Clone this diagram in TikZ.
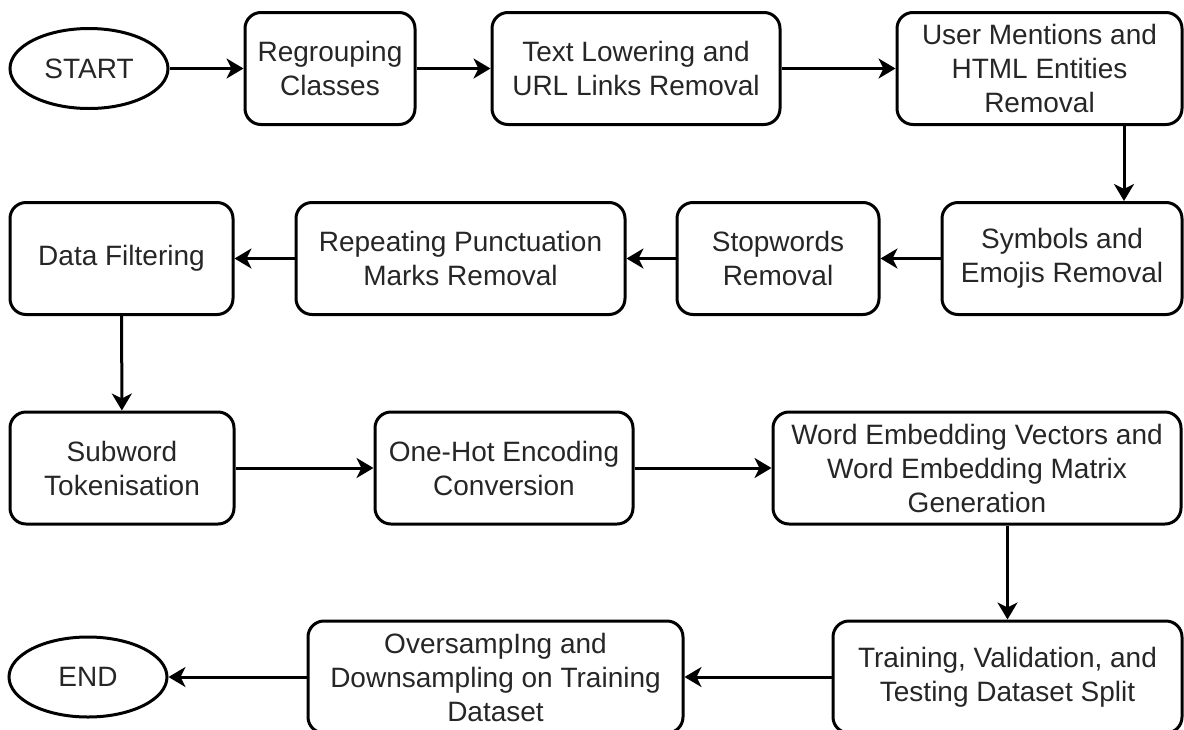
\documentclass[tikz,border=0pt]{standalone}
\usepackage{fontspec}
\setmainfont{Liberation Sans}
\usetikzlibrary{shapes.geometric,arrows.meta,calc}
\begin{document}
\begin{tikzpicture}[x=0.5pt,y=-0.5pt,
  every node/.style={font=\fontsize{14pt}{17pt}\selectfont, text=black!85, align=center},
  stepbox/.style={draw=black, line width=1.5pt, rounded corners=8pt, inner sep=0pt, minimum height=56pt},
  terminal/.style={draw=black, line width=1.5pt, ellipse, inner sep=0pt, minimum width=79pt, minimum height=40pt},
  flow/.style={draw=black, line width=1.5pt, -{Stealth[length=8.5pt,width=10pt,inset=2.5pt]}}
]
\useasboundingbox (0,0) rectangle (1184,729);

% row 1
\node[terminal] (start) at (89,68.5) {START};
\node[stepbox, minimum width=85pt] (reg) at (330,68.5) {Regrouping\\Classes};
\node[stepbox, minimum width=144pt] (txt) at (636,68.5) {Text Lowering and\\URL Links Removal};
\node[stepbox, minimum width=142.5pt] (usr) at (1039.5,68.5) {User Mentions and\\HTML Entities\\Removal};

% row 2
\node[stepbox, minimum width=111.5pt] (filt) at (121.5,258.5) {Data Filtering};
\node[stepbox, minimum width=164.5pt] (rep) at (460.5,258.5) {Repeating Punctuation\\Marks Removal};
\node[stepbox, minimum width=101pt] (stop) at (778,258.5) {Stopwords\\Removal};
\node[stepbox, minimum width=120pt] (sym) at (1062,258.5) {Symbols and\\Emojis Removal};

% row 3
\node[stepbox, minimum width=112pt] (sub) at (122,468) {Subword\\Tokenisation};
\node[stepbox, minimum width=129pt] (one) at (504,468) {One-Hot Encoding\\Conversion};
\node[stepbox, minimum width=204pt] (emb) at (977,468) {Word Embedding Vectors and\\Word Embedding Matrix\\Generation};

% row 4
\node[terminal] (endn) at (88,677) {END};
\node[stepbox, minimum width=187.5pt] (over) at (495.5,677) {OversampIng and\\Downsampling on Training\\Dataset};
\node[stepbox, minimum width=174.5pt] (train) at (1007.5,677) {Training, Validation, and\\Testing Dataset Split};

% connectors
\coordinate (drop) at (1124,0);
\draw[flow] (start) -- (reg);
\draw[flow] (reg) -- (txt);
\draw[flow] (txt) -- (usr);
\draw[flow] (usr.south -| drop) -- (sym.north -| drop);
\draw[flow] (sym) -- (stop);
\draw[flow] (stop) -- (rep);
\draw[flow] (rep) -- (filt);
\draw[flow] (filt) -- (sub);
\draw[flow] (sub) -- (one);
\draw[flow] (one) -- (emb);
\draw[flow] (emb.south -| train.north) -- (train.north);
\draw[flow] (train) -- (over);
\draw[flow] (over) -- (endn);
\end{tikzpicture}
\end{document}
